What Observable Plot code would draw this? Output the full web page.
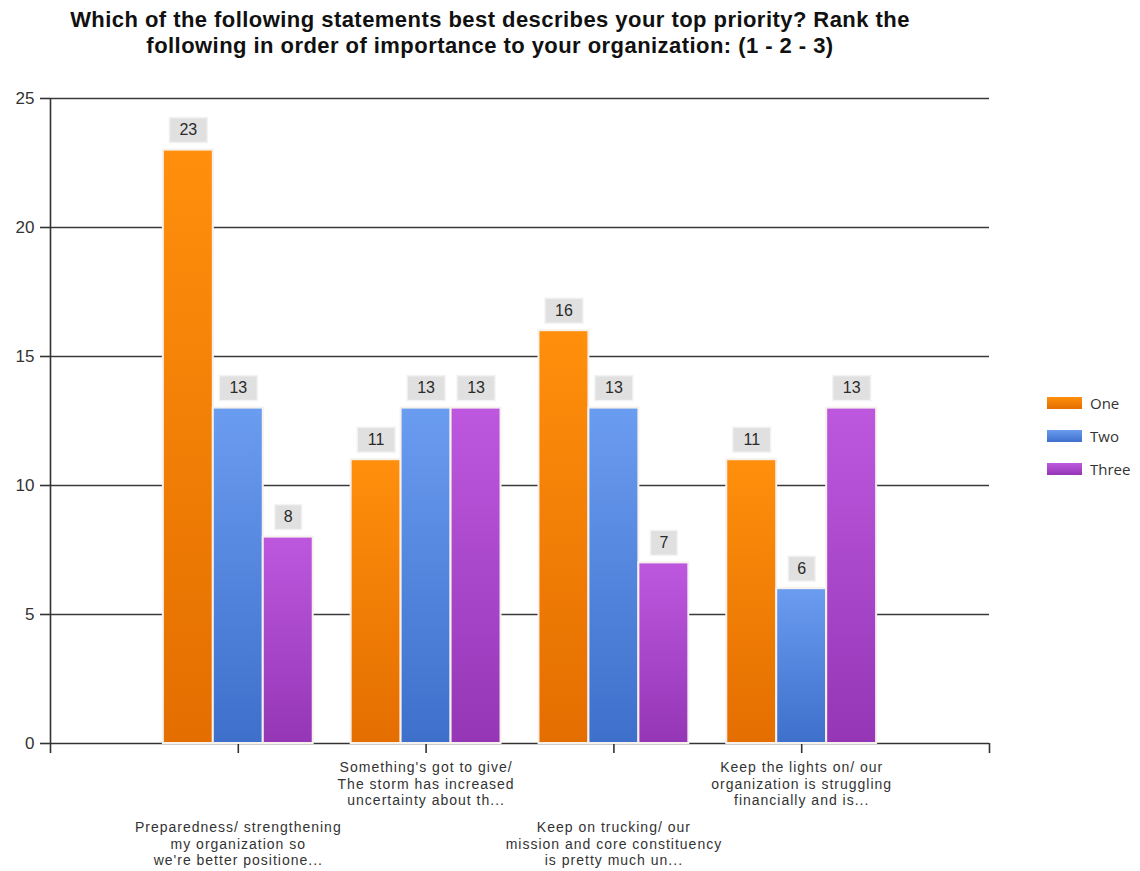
<!DOCTYPE html>
<html><head><meta charset="utf-8">
<script src="https://cdn.jsdelivr.net/npm/d3@7"></script>
<script src="https://cdn.jsdelivr.net/npm/@observablehq/plot@0.6"></script>
<style>
body{margin:0;background:#fff;}
#wrap{position:relative;width:1140px;height:871px;overflow:hidden;}
#title{height:60px;box-sizing:border-box;padding-top:7px;width:980px;text-align:center;font:bold 22px "Liberation Sans",Arial,sans-serif;letter-spacing:0.45px;line-height:26px;color:#111;}
#legend{position:absolute;left:1047px;top:386px;font:15px "Open Sans",sans-serif;color:#333;}
.item{display:flex;align-items:center;height:33px;}
.sw{width:35px;height:12px;margin-right:8px;}
</style></head><body>
<div id="wrap">
<div id="title">Which of the following statements best describes your top priority? Rank the<br>following in order of importance to your organization: (1 - 2 - 3)</div>
<div id="chart"></div>
<div id="legend"></div>
</div>
<script>
const categories = [
  "Preparedness/ strengthening\nmy organization so\nwe're better positione...",
  "Something's got to give/\nThe storm has increased\nuncertainty about th...",
  "Keep on trucking/ our\nmission and core constituency\nis pretty much un...",
  "Keep the lights on/ our\norganization is struggling\nfinancially and is..."
];
const series = ["One", "Two", "Three"];
const one = [23, 11, 16, 11];
const two = [13, 13, 13, 6];
const three = [8, 13, 7, 13];
const yTicks = [0, 5, 10, 15, 20, 25];
const xTicks = [0, 1, 2, 3, 4, 5];

const seriesValues = [one, two, three];
const colors = {
  One: ["#ff8f0c", "#e46e00"],
  Two: ["#6a9cf0", "#3e6fcb"],
  Three: ["#bd58de", "#9436b6"]
};
const BAR_STEP = 0.266;

const rows = [];
categories.forEach((c, i) => series.forEach((s, j) => rows.push({
  cat: c, ci: i + 1, s, j, value: seriesValues[j][i], pos: i + 1 + (j - 1) * BAR_STEP
})));
const catRows = categories.map((c, i) => ({cat: c, ci: i + 1}));

function defsMark() {
  const defs = d3.create("svg:defs");
  series.forEach(s => {
    const g = defs.append("linearGradient").attr("id", "grad" + s)
      .attr("x1", 0).attr("y1", 0).attr("x2", 0).attr("y2", 1);
    g.append("stop").attr("offset", "0%").attr("stop-color", colors[s][0]);
    g.append("stop").attr("offset", "100%").attr("stop-color", colors[s][1]);
  });
  return defs.node();
}

const ns = "http://www.w3.org/2000/svg";
function boxRender(index, scales, values, dimensions, context, next) {
  const g = next(index, scales, values, dimensions, context);
  const bg = document.createElementNS(ns, "g");
  for (const i of index) {
    const len = String(rows[i].value).length;
    const w = len === 1 ? 27 : 38, h = 25;
    const r = document.createElementNS(ns, "rect");
    r.setAttribute("x", values.x[i] - w / 2);
    r.setAttribute("y", values.y[i] - h / 2);
    r.setAttribute("width", w);
    r.setAttribute("height", h);
    r.setAttribute("fill", "#e0e0e0");
    r.setAttribute("stroke", "#f3f3f3");
    r.setAttribute("stroke-width", 1.5);
    bg.appendChild(r);
  }
  g.insertBefore(bg, g.firstChild);
  return g;
}
function spaced(index, scales, values, dimensions, context, next) {
  const g = next(index, scales, values, dimensions, context);
  g.setAttribute("letter-spacing", "1");
  return g;
}

const barMarks = series.map(s => Plot.rectY(rows.filter(d => d.s === s), {
  x1: d => d.pos - BAR_STEP / 2,
  x2: d => d.pos + BAR_STEP / 2,
  y1: 0,
  y2: "value",
  fill: `url(#grad${s})`,
  stroke: "#f6f1ec",
  strokeWidth: 2
}));

const labelFont = "'Liberation Sans', Arial, sans-serif";

const chart = Plot.plot({
  width: 1140,
  height: 811,
  marginLeft: 50,
  marginRight: 151,
  marginTop: 38,
  marginBottom: 128,
  x: {domain: [0, 5], axis: null},
  y: {domain: [0, 25], axis: null},
  style: {fontFamily: "'Liberation Sans', Arial, sans-serif", color: "#333", background: "white"},
  marks: [
    defsMark,
    Plot.ruleY(yTicks.filter(t => t > 0), {stroke: "#3a3a3a", strokeWidth: 1.6}),
    Plot.axisY({ticks: yTicks, tickSize: 10, tickPadding: 6, fontSize: 17, strokeWidth: 1.6, stroke: "#333", label: null}),
    Plot.ruleX([0], {stroke: "#333", strokeWidth: 1.6}),
    Plot.ruleX(xTicks, {y1: 0, y2: 0, insetBottom: -10, stroke: "#333", strokeWidth: 1.6}),
    Plot.ruleY([0], {stroke: "#333", strokeWidth: 1.6}),
    ...barMarks,
    Plot.text(rows, {
      x: "pos", y: "value", text: d => String(d.value), dy: -20,
      fontSize: 16, fill: "#2a2a2a", render: boxRender
    }),
    Plot.text(catRows.filter(d => d.ci % 2 === 0), {
      x: "ci", y: 0, text: "cat", lineAnchor: "top", dy: 17,
      fontSize: 14, lineHeight: 1.18, fill: "#333", fontFamily: labelFont, render: spaced
    }),
    Plot.text(catRows.filter(d => d.ci % 2 === 1), {
      x: "ci", y: 0, text: "cat", lineAnchor: "top", dy: 77,
      fontSize: 14, lineHeight: 1.18, fill: "#333", fontFamily: labelFont, render: spaced
    })
  ]
});
document.getElementById("chart").appendChild(chart);

const legend = document.getElementById("legend");
series.forEach(s => {
  const item = document.createElement("div");
  item.className = "item";
  const sw = document.createElement("span");
  sw.className = "sw";
  sw.style.background = `linear-gradient(${colors[s][0]}, ${colors[s][1]})`;
  const t = document.createElement("span");
  t.textContent = s;
  item.appendChild(sw);
  item.appendChild(t);
  legend.appendChild(item);
});
</script>
</body></html>
